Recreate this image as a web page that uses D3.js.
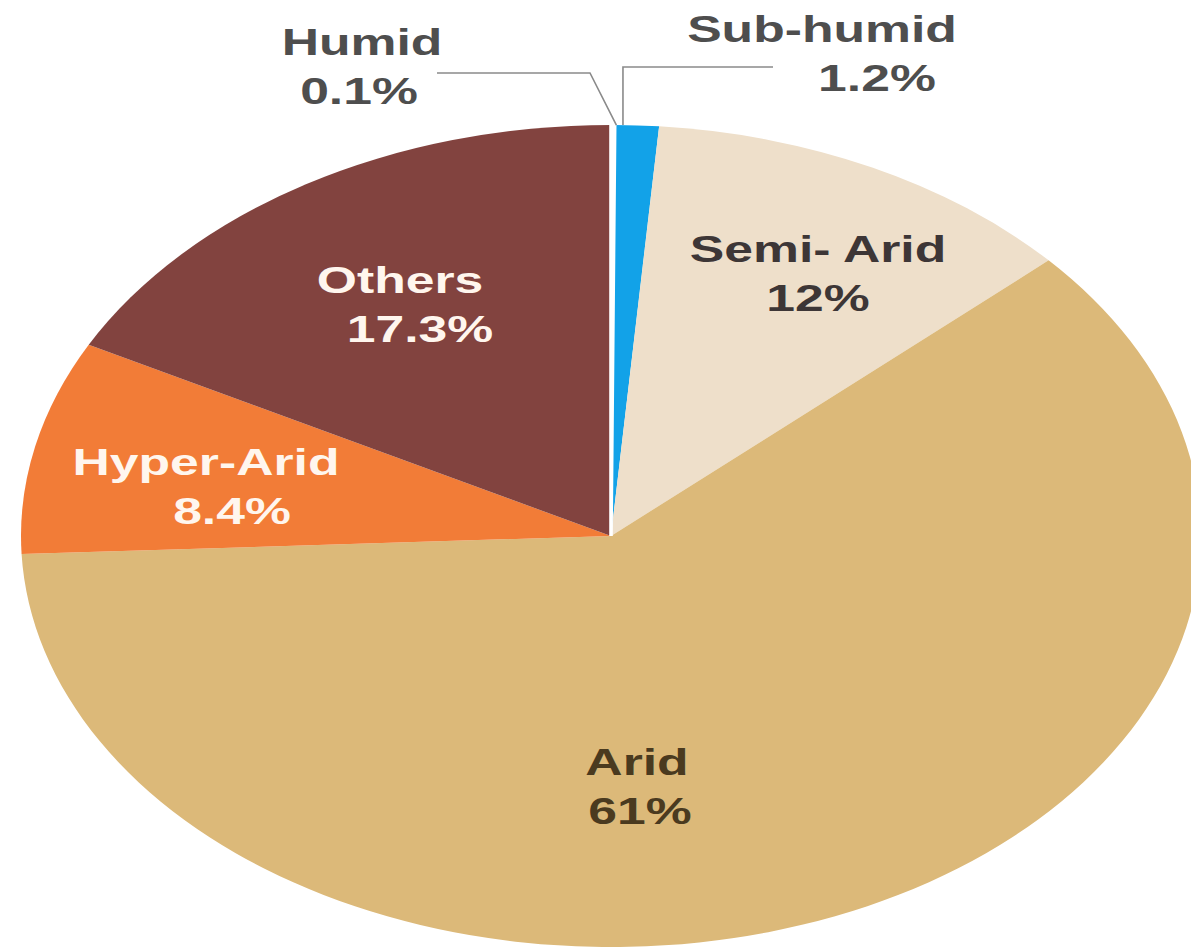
<!DOCTYPE html>
<html>
  <head>
    <meta charset="utf-8">
    <title>Drylands pie</title>
    <script src="https://cdn.jsdelivr.net/npm/d3@7"></script>
    <style>
      body { margin: 0; background: #fff; }
      svg text { font-family: "Liberation Sans", Arial, sans-serif; font-weight: bold; }
    </style>
  </head>

  <body>
    <svg id="chart" width="1191" height="952"></svg>

    <script>
      // data
      categories = ["Humid", "Sub-humid", "Semi- Arid", "Arid", "Hyper-Arid", "Others"];
      values = [0.1, 1.2, 12, 61, 8.4, 17.3];
      valueLabels = ["0.1%", "1.2%", "12%", "61%", "8.4%", "17.3%"];

      // look
      colours = ["#ffffff", "#12a2e8", "#eedfca", "#dcb979", "#f27c37", "#82433f"];
      textColours = ["#4e4e4e", "#4e4e4e", "#3d3636", "#4a3a1f", "#fff6ee", "#fff6ee"];
      // label centres on the page (x, first baseline)
      labelPos = [[362, 55], [822, 42], [818, 262], [637, 775], [206, 475], [400, 293]];
      valueOffsets = [-3, 55, 0, 3, 26, 20];

      // page elements
      width = 1191;
      height = 952;
      cx = 611;
      cy = 536;
      r = 411;
      sx = 1.4355; // the original is a circle stretched sideways

      svg = d3.select("#chart");
      pieGroup = svg.append("g")
        .attr("transform", "translate(" + cx + "," + cy + ") scale(" + sx + ",1)");

      pie = d3.pie().sort(null).value(function(d) { return d; });
      arc = d3.arc().innerRadius(0).outerRadius(r);
      slices = pie(values);

      pieGroup.selectAll(".slice")
        .data(slices)
      .enter().append("path")
        .classed("slice", true)
        .attr("d", arc)
        .attr("fill", function(d, i) { return colours[i]; });

      // the humid sliver shows as a white gap, a bit wider than its share
      pieGroup.selectAll(".slice")
        .filter(function(d, i) { return i == 0; })
        .attr("stroke", "#fff")
        .attr("stroke-width", 2.5)
        .raise();

      // leader lines for the two thin slices (page coordinates)
      function rim(angle) {
        return [cx + Math.sin(angle) * r * sx, cy - Math.cos(angle) * r];
      }
      humidStart = rim((slices[0].startAngle + slices[0].endAngle) / 2 + 0.006);
      subStart = rim(slices[1].startAngle + 0.014);
      leaders = [
        [humidStart, [590, 73], [437, 73]],
        [subStart, [subStart[0], 67], [773, 67]]
      ];
      svg.selectAll(".leader")
        .data(leaders)
      .enter().append("path")
        .classed("leader", true)
        .attr("d", d3.line())
        .attr("fill", "none")
        .attr("stroke", "#8a8a8a")
        .attr("stroke-width", 1.6);

      // labels, drawn in the stretched group
      labels = pieGroup.selectAll(".label")
        .data(categories)
      .enter().append("g")
        .classed("label", true)
        .attr("fill", function(d, i) { return textColours[i]; })
        .attr("text-anchor", "middle")
        .attr("font-size", 36);
      labels.append("text")
        .attr("x", function(d, i) { return (labelPos[i][0] - cx) / sx; })
        .attr("y", function(d, i) { return labelPos[i][1] - cy; })
        .text(function(d) { return d; });
      labels.append("text")
        .attr("x", function(d, i) { return (labelPos[i][0] + valueOffsets[i] - cx) / sx; })
        .attr("y", function(d, i) { return labelPos[i][1] + 49 - cy; })
        .text(function(d, i) { return valueLabels[i]; });
    </script>
  </body>
</html>
